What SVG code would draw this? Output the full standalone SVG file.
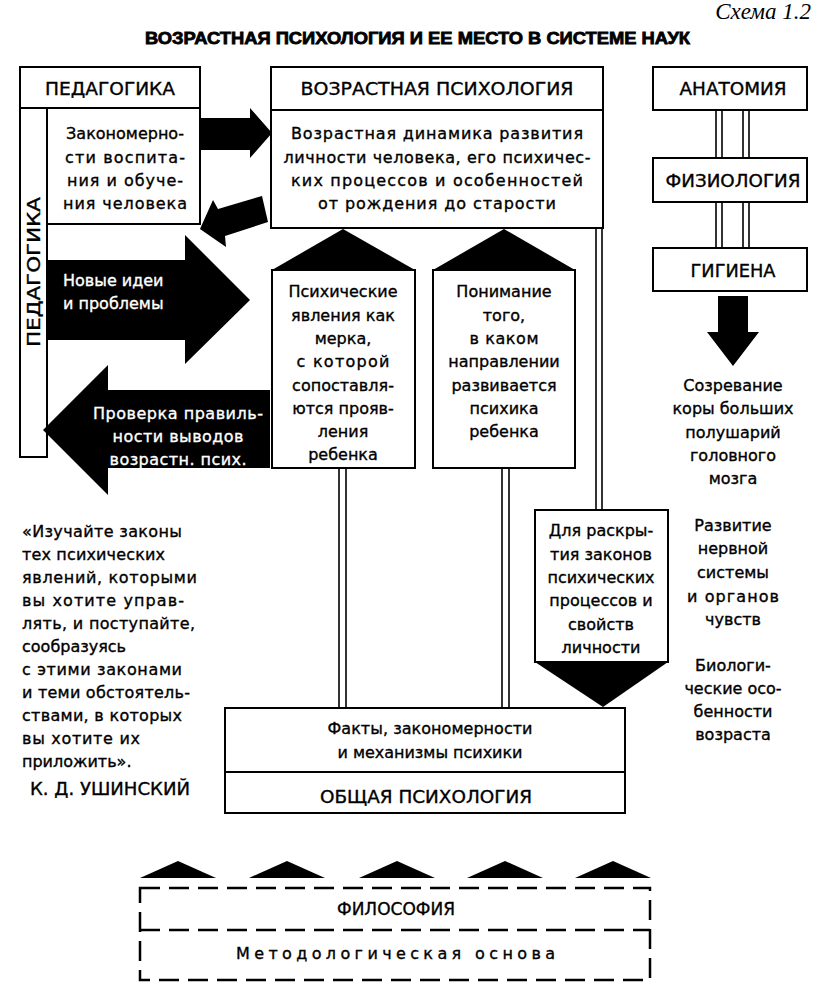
<svg xmlns="http://www.w3.org/2000/svg" width="831" height="996" viewBox="0 0 831 996">
<style>
.t{font-family:"DejaVu Sans","Liberation Sans",sans-serif;font-size:16px;fill:#000;stroke:#000;stroke-width:0.35}
.c{text-anchor:middle}
.h{font-size:17px}
.w{fill:#fff;stroke:#fff}
.box{fill:#fff;stroke:#000;stroke-width:2}
.blk{fill:#000;stroke:none}
.dl{fill:#fff;stroke:#000;stroke-width:1.6}
.dash{fill:none;stroke:#000;stroke-width:2.5;stroke-dasharray:20 9}
</style>
<rect width="831" height="996" fill="#fff"/>
<text x="811" y="19" text-anchor="end" font-family="Liberation Serif,serif" font-style="italic" font-size="23">Схема 1.2</text>
<text x="145" y="44" font-family="Liberation Sans,sans-serif" font-weight="bold" font-size="17" stroke="#000" stroke-width="0.8" textLength="545" lengthAdjust="spacingAndGlyphs">ВОЗРАСТНАЯ ПСИХОЛОГИЯ И ЕЕ МЕСТО В СИСТЕМЕ НАУК</text>

<g id="connectors">
  <rect class="dl" x="596" y="228" width="6" height="282"/>
  <rect class="dl" x="339" y="468" width="7" height="240"/>
  <rect class="dl" x="502" y="468" width="7" height="240"/>
  <rect class="dl" x="716" y="110" width="6" height="48"/>
  <rect class="dl" x="743" y="110" width="6" height="48"/>
  <rect class="dl" x="716" y="202" width="6" height="46"/>
  <rect class="dl" x="743" y="202" width="6" height="46"/>
  <polygon class="blk" points="200,118 250,118 250,108 272,133 250,158 250,150 200,150"/>
  <polygon class="blk" points="200,229 213,200 218,209 262,196 268,222 225,236 226,247"/>
  <polygon class="blk" points="718,296 748,296 748,332 759,332 733,366 707,332 718,332"/>
  <polygon class="blk" points="343,229 415,270 272,270"/>
  <polygon class="blk" points="504,229 575,270 433,270"/>
  <polygon class="blk" points="535,662 668,662 603,707"/>
  <polygon class="blk" points="140,878 178,861 216,878"/>
  <polygon class="blk" points="249,878 287,861 325,878"/>
  <polygon class="blk" points="359,878 397,861 435,878"/>
  <polygon class="blk" points="467,878 505,861 543,878"/>
  <polygon class="blk" points="575,878 613,861 651,878"/>
</g>

<g id="pedagogika">
  <rect class="box" x="20" y="67" width="180" height="41"/>
  <text class="t h c" x="110" y="95" textLength="130" lengthAdjust="spacingAndGlyphs">ПЕДАГОГИКА</text>
  <rect class="box" x="20" y="108" width="27" height="349"/>
  <text class="t h c" transform="translate(40,272) rotate(-90)" textLength="150" lengthAdjust="spacingAndGlyphs">ПЕДАГОГИКА</text>
  <rect class="box" x="47" y="108" width="153" height="116"/>
  <text class="t c" x="125" y="139">Закономерно-</text>
  <text class="t c" x="125" y="163" textLength="120">сти воспита-</text>
  <text class="t c" x="125" y="186" textLength="116">ния и обуче-</text>
  <text class="t c" x="125" y="209" textLength="124">ния человека</text>
</g>

<g id="new-ideas">
  <polygon class="blk" points="47,260 185,260 185,235 250,300 185,364 185,340 47,340"/>
  <text class="t w" x="63" y="286">Новые идеи</text>
  <text class="t w" x="63" y="309">и проблемы</text>
</g>

<g id="check">
  <polygon class="blk" points="270,390 108,390 108,365 43,430 108,495 108,468 270,468"/>
  <text class="t w c" x="178" y="419" textLength="170">Проверка правиль-</text>
  <text class="t w c" x="178" y="442" textLength="131">ности выводов</text>
  <text class="t w c" x="178" y="465" textLength="137">возрастн. псих.</text>
</g>

<g id="vozrastnaya">
  <rect class="box" x="271" y="67" width="332" height="43"/>
  <text class="t h c" x="437" y="95" textLength="273" lengthAdjust="spacingAndGlyphs">ВОЗРАСТНАЯ ПСИХОЛОГИЯ</text>
  <rect class="box" x="271" y="110" width="332" height="118"/>
  <text class="t c" x="437" y="139" textLength="292">Возрастная динамика развития</text>
  <text class="t c" x="437" y="163" textLength="307">личности человека, его психичес-</text>
  <text class="t c" x="437" y="186" textLength="292">ких процессов и особенностей</text>
  <text class="t c" x="437" y="209" textLength="238">от рождения до старости</text>
</g>

<g id="psych">
  <rect class="box" x="272" y="270" width="143" height="198"/>
  <text class="t c" x="343" y="297">Психические</text>
  <text class="t c" x="343" y="321">явления как</text>
  <text class="t c" x="343" y="344">мерка,</text>
  <text class="t c" x="343" y="367" textLength="93">с которой</text>
  <text class="t c" x="343" y="391">сопоставля-</text>
  <text class="t c" x="343" y="414">ются прояв-</text>
  <text class="t c" x="343" y="437">ления</text>
  <text class="t c" x="343" y="460">ребенка</text>
</g>

<g id="ponimanie">
  <rect class="box" x="433" y="270" width="142" height="198"/>
  <text class="t c" x="504" y="297">Понимание</text>
  <text class="t c" x="504" y="321">того,</text>
  <text class="t c" x="504" y="344" textLength="69">в каком</text>
  <text class="t c" x="504" y="367">направлении</text>
  <text class="t c" x="504" y="391">развивается</text>
  <text class="t c" x="504" y="414">психика</text>
  <text class="t c" x="504" y="437">ребенка</text>
</g>

<g id="raskrytie">
  <rect class="box" x="535" y="510" width="133" height="152"/>
  <text class="t c" x="601" y="536">Для раскры-</text>
  <text class="t c" x="601" y="560">тия законов</text>
  <text class="t c" x="601" y="583">психических</text>
  <text class="t c" x="601" y="606">процессов и</text>
  <text class="t c" x="601" y="630">свойств</text>
  <text class="t c" x="601" y="653">личности</text>
</g>

<g id="obshchaya">
  <rect class="box" x="225" y="708" width="400" height="64"/>
  <text class="t c" x="430" y="734" textLength="205">Факты, закономерности</text>
  <text class="t c" x="430" y="758" textLength="185">и механизмы психики</text>
  <rect class="box" x="225" y="772" width="400" height="41"/>
  <text class="t h c" x="426" y="803" textLength="212" lengthAdjust="spacingAndGlyphs">ОБЩАЯ ПСИХОЛОГИЯ</text>
</g>

<g id="anatomiya">
  <rect class="box" x="653" y="67" width="154" height="43"/>
  <text class="t h c" x="733" y="95" textLength="107" lengthAdjust="spacingAndGlyphs">АНАТОМИЯ</text>
</g>
<g id="fiziologiya">
  <rect class="box" x="653" y="158" width="154" height="44"/>
  <text class="t h c" x="733" y="187" textLength="135" lengthAdjust="spacingAndGlyphs">ФИЗИОЛОГИЯ</text>
</g>
<g id="gigiena">
  <rect class="box" x="653" y="248" width="154" height="43"/>
  <text class="t h c" x="733" y="277" textLength="85" lengthAdjust="spacingAndGlyphs">ГИГИЕНА</text>
</g>

<g id="bio-texts">
  <text class="t c" x="733" y="391">Созревание</text>
  <text class="t c" x="733" y="414">коры больших</text>
  <text class="t c" x="733" y="438">полушарий</text>
  <text class="t c" x="733" y="461">головного</text>
  <text class="t c" x="733" y="484">мозга</text>
  <text class="t c" x="733" y="531">Развитие</text>
  <text class="t c" x="733" y="554">нервной</text>
  <text class="t c" x="733" y="578">системы</text>
  <text class="t c" x="733" y="602" textLength="92">и органов</text>
  <text class="t c" x="733" y="625">чувств</text>
  <text class="t c" x="733" y="671">Биологи-</text>
  <text class="t c" x="733" y="694">ческие осо-</text>
  <text class="t c" x="733" y="717">бенности</text>
  <text class="t c" x="733" y="740">возраста</text>
</g>

<g id="quote">
  <text class="t" x="22" y="537" textLength="160">«Изучайте законы</text>
  <text class="t" x="22" y="560" textLength="143">тех психических</text>
  <text class="t" x="22" y="583" textLength="175">явлений, которыми</text>
  <text class="t" x="22" y="606" textLength="162">вы хотите управ-</text>
  <text class="t" x="22" y="629" textLength="173">лять, и поступайте,</text>
  <text class="t" x="22" y="652">сообразуясь</text>
  <text class="t" x="22" y="675" textLength="160">с этими законами</text>
  <text class="t" x="22" y="698" textLength="168">и теми обстоятель-</text>
  <text class="t" x="22" y="721" textLength="160">ствами, в которых</text>
  <text class="t" x="22" y="744" textLength="118">вы хотите их</text>
  <text class="t" x="22" y="767">приложить».</text>
  <text class="t h" x="30" y="795" textLength="160" lengthAdjust="spacingAndGlyphs">К. Д. УШИНСКИЙ</text>
</g>

<g id="filosofiya">
  <rect class="dash" x="140" y="888" width="510" height="92"/>
  <line class="dash" x1="140" y1="930" x2="650" y2="930"/>
  <text class="t h c" x="396" y="915" textLength="118" lengthAdjust="spacingAndGlyphs">ФИЛОСОФИЯ</text>
  <text class="t" x="236" y="959" textLength="324" letter-spacing="5">Методологическая основа</text>
</g>
</svg>
